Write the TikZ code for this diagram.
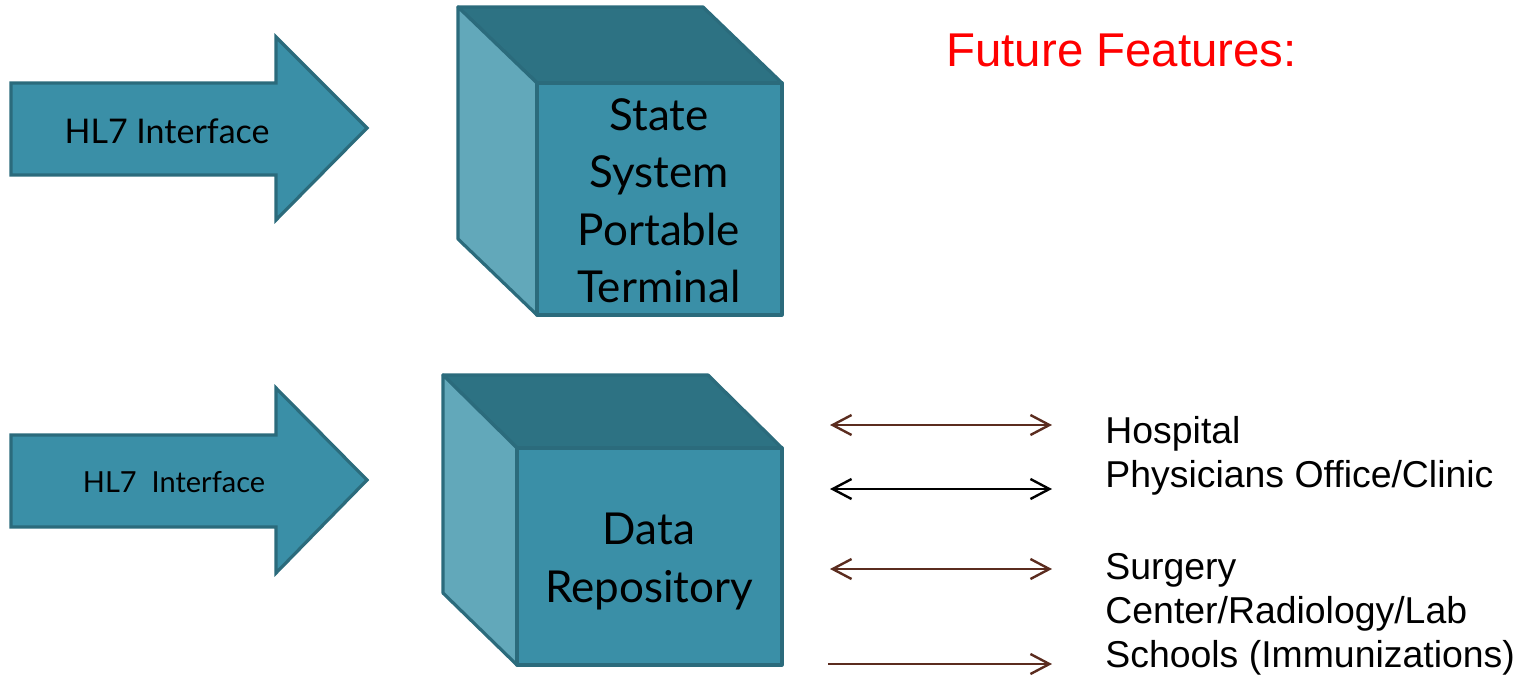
\documentclass[tikz,border=0pt]{standalone}
\usepackage{fontspec}
\setmainfont{Lato}
\newfontfamily\arialfont{Liberation Sans}
\usetikzlibrary{arrows.meta}
\definecolor{tealfront}{HTML}{3A8FA7}
\definecolor{tealtop}{HTML}{2D7283}
\definecolor{tealside}{HTML}{62A8BA}
\definecolor{tealedge}{HTML}{2B6B7C}
\definecolor{linkbrown}{HTML}{5B2C1F}
\definecolor{futurered}{HTML}{FF0000}
\tikzset{
  x=0.5pt, y=-0.5pt,
  facefront/.style={fill=tealfront, draw=tealedge, line width=1.6pt, line join=round},
  facetop/.style={fill=tealtop, draw=tealedge, line width=1.6pt, line join=round},
  faceside/.style={fill=tealside, draw=tealedge, line width=1.6pt, line join=round},
  bigarrow/.style={fill=tealfront, draw=tealedge, line width=1.6pt, line join=miter},
  cubetext/.style={font=\fontsize{22}{28.75}\selectfont, align=center, inner sep=0pt},
  link/.style={line width=1.2pt, draw=linkbrown,
    arrows={Straight Barb[length=9.5pt,width=10pt,line width=1.2pt]-Straight Barb[length=9.5pt,width=10pt,line width=1.2pt]}},
  linkone/.style={line width=1.2pt, draw=linkbrown,
    -{Straight Barb[length=9.5pt,width=10pt,line width=1.2pt]}},
  sitetext/.style={font=\arialfont\fontsize{18.7}{22}\selectfont, anchor=base west, inner sep=0pt},
}
\begin{document}
\begin{tikzpicture}
\useasboundingbox (0,0) rectangle (1525,675);

% interface arrows
\draw[bigarrow] (11,83) -- (276,83) -- (276,37) -- (367,128) -- (276,220) -- (276,175) -- (11,175) -- cycle;
\node[font=\fontsize{17}{20}\selectfont, anchor=base, inner sep=0pt] (hlone) at (167,143) {HL7 Interface};

\draw[bigarrow] (11,435) -- (276,435) -- (276,388) -- (367,480) -- (276,573) -- (276,527) -- (11,527) -- cycle;
\node[font=\fontsize{14.5}{18}\selectfont, anchor=base, inner sep=0pt] (hltwo) at (174,492) {HL7\ \ Interface};

% state system cube
\draw[facetop] (458,7) -- (703,7) -- (782,83) -- (537,83) -- cycle;
\draw[faceside] (458,7) -- (537,83) -- (537,315) -- (458,239) -- cycle;
\draw[facefront] (537,83) rectangle (782,315);
\node[cubetext, anchor=base] (state) at (659,302.5) {State\\System\\Portable\\Terminal};

% data repository cube
\draw[facetop] (443,375) -- (708,375) -- (782,448) -- (517,448) -- cycle;
\draw[faceside] (443,375) -- (517,448) -- (517,665) -- (443,593) -- cycle;
\draw[facefront] (517,448) rectangle (782,665);
\node[cubetext, anchor=base] (repo) at (649,602) {Data\\Repository};

% heading
\node[font=\arialfont\fontsize{23.7}{28}\selectfont, text=futurered, anchor=base west, inner sep=0pt] (future) at (946,66) {Future Features:};

% links to external sites
\coordinate (la) at (830,425); \coordinate (ra) at (1052,425);
\coordinate (lb) at (830,489); \coordinate (rb) at (1052,489);
\coordinate (lc) at (830,569); \coordinate (rc) at (1052,569);
\coordinate (ld) at (828,664); \coordinate (rd) at (1052,664);
\draw[link] (la) -- (ra);
\draw[link, draw=black] (lb) -- (rb);
\draw[link] (lc) -- (rc);
\draw[linkone] (ld) -- (rd);

\node[sitetext] (hosp) at (1105,443) {Hospital};
\node[sitetext] (phys) at (1105,487) {Physicians Office/Clinic};
\node[sitetext] (surg) at (1105,579) {Surgery};
\node[sitetext] (cent) at (1105,623) {Center/Radiology/Lab};
\node[sitetext] (school) at (1105,667) {Schools (Immunizations)};
\end{tikzpicture}
\end{document}
